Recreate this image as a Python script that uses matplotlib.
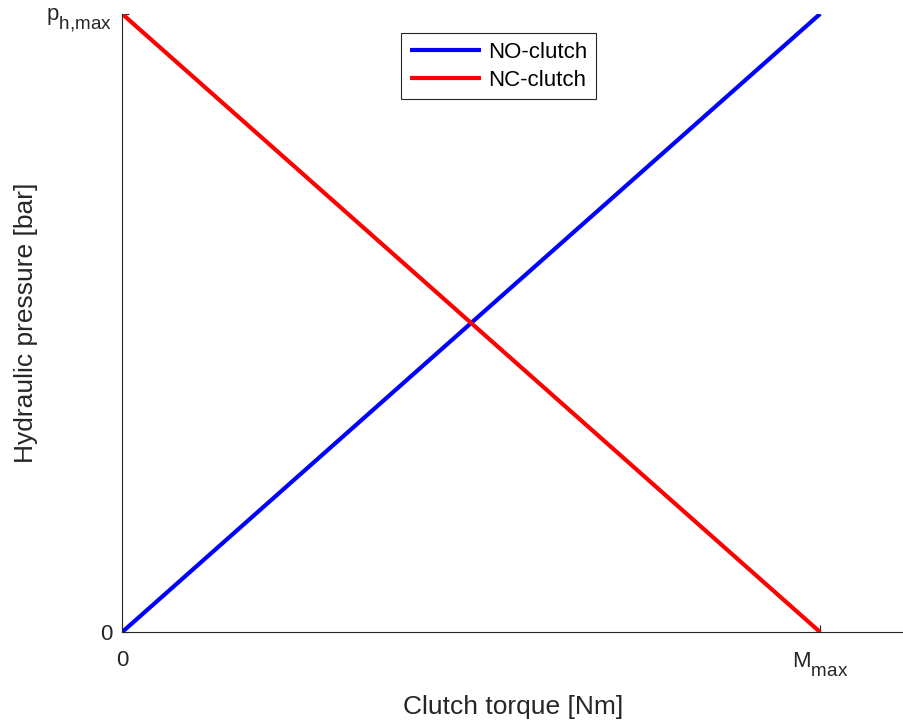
import matplotlib
matplotlib.use("Agg")
import matplotlib.pyplot as plt
import matplotlib._mathtext as mathtext_internal

plt.rcParams['font.family'] = ['Liberation Sans', 'DejaVu Sans']
plt.rcParams['mathtext.fontset'] = 'custom'
plt.rcParams['mathtext.rm'] = 'Liberation Sans'
plt.rcParams['mathtext.it'] = 'Liberation Sans'
plt.rcParams['mathtext.default'] = 'regular'
# larger, lower subscripts for the tick labels
mathtext_internal.SHRINK_FACTOR = 0.85
mathtext_internal.FontConstantsBase.sub1 = 0.75
mathtext_internal.FontConstantsBase.sub2 = 0.75

# normalised torque / pressure
torque = [0.0, 1.0]
p_no = [0.0, 1.0]   # normally open: pressure rises with torque
p_nc = [1.0, 0.0]   # normally closed: pressure falls with torque

x_ticks = [0.0, 1.0]
x_ticklabels = ['0', r'$M_{max}$']
y_ticks = [0.0, 1.0]
y_ticklabels = ['0', r'$p_{h{,}max}$']

fig = plt.figure(figsize=(9.04, 7.25), dpi=100)
ax = fig.add_axes([0.135, 0.128, 0.865, 0.853])

ax.plot(torque, p_no, color='#0000ff', lw=3, label='NO-clutch', solid_capstyle='butt')
ax.plot(torque, p_nc, color='#ff0000', lw=3, label='NC-clutch', solid_capstyle='butt')

ax.set_xlim(0, 1.12)
ax.set_ylim(0, 1)
ax.set_xticks(x_ticks)
ax.set_xticklabels(x_ticklabels)
ax.set_yticks(y_ticks)
ax.set_yticklabels(y_ticklabels)
ax.tick_params(direction='in', length=5, width=0.8, labelsize=16, colors='#262626')
ax.tick_params(axis='x', pad=13)
ax.tick_params(axis='y', pad=7)

for s in ['top', 'right']:
    ax.spines[s].set_visible(False)
for s in ['left', 'bottom']:
    ax.spines[s].set_color('#262626')
    ax.spines[s].set_linewidth(0.8)

ax.set_xlabel('Clutch torque [Nm]', fontsize=19, color='#262626', labelpad=12)
ax.set_ylabel('Hydraulic pressure [bar]', fontsize=19, color='#262626', labelpad=6)

leg = ax.legend(loc='upper left', bbox_to_anchor=(0.357, 0.969), borderaxespad=0,
                fontsize=16, fancybox=False, framealpha=1, edgecolor='#262626',
                handlelength=3.2, handletextpad=0.3, borderpad=0.4, labelspacing=0.3)
leg.get_frame().set_linewidth(0.8)

fig.savefig('out.png', dpi=100)
